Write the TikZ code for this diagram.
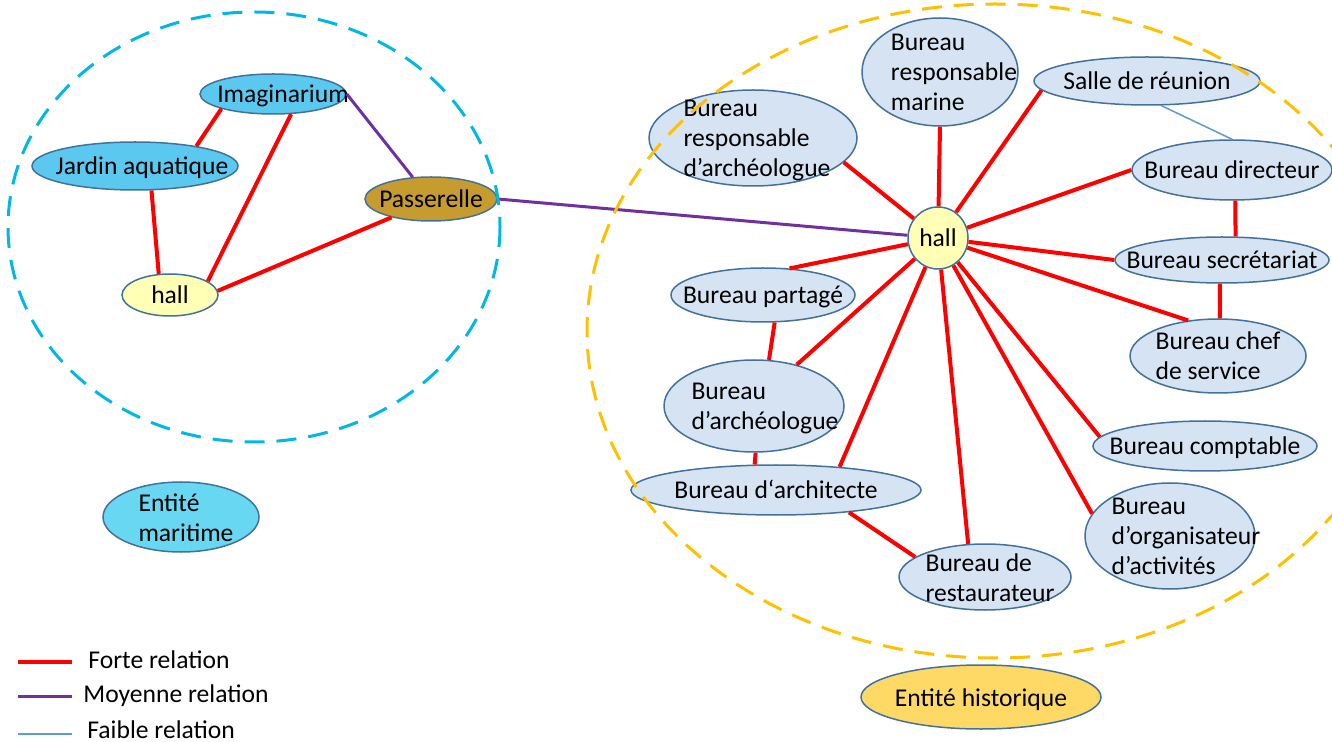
\documentclass[tikz,border=0pt]{standalone}
\usepackage{fontspec}
\setmainfont{Carlito}
\usetikzlibrary{shapes.geometric}
\definecolor{roomBlue}{RGB}{214,227,242}
\definecolor{roomBorder}{RGB}{65,113,156}
\definecolor{aquaBlue}{RGB}{91,200,240}
\definecolor{seaBlue}{RGB}{104,216,242}
\definecolor{bridgeGold}{RGB}{198,156,46}
\definecolor{hallYellow}{RGB}{255,255,182}
\definecolor{histGold}{RGB}{255,217,102}
\definecolor{zoneCyan}{RGB}{0,184,230}
\definecolor{zoneOrange}{RGB}{255,192,0}
\definecolor{relPurple}{RGB}{112,48,160}
\definecolor{relBlue}{RGB}{91,155,213}
% text kept out of the shape size, optional shift to the right
\newcommand{\ovl}[2][0pt]{\makebox[0pt]{\hspace*{#1}\smash{\raisebox{-4.5pt}{\begin{tabular}{@{}l@{}}#2\end{tabular}}}\hspace*{-#1}}}
\tikzset{
  room/.style={ellipse, draw=roomBorder, line width=0.75pt, fill=roomBlue, inner sep=0pt},
  forte/.style={red, line width=2pt},
  moyenne/.style={relPurple, line width=1.5pt},
  faible/.style={relBlue, line width=0.75pt},
  zone/.style={line width=1.5pt, dash pattern=on 10pt off 6pt},
  keytext/.style={anchor=base west, inner sep=0pt}
}
\begin{document}
\begin{tikzpicture}[x=0.5pt, y=-0.5pt, font=\fontsize{12.8}{15}\selectfont]
      \useasboundingbox (0,0) rectangle (1332,742);

      % entite maritime
      \node[room, fill=aquaBlue, minimum width=73pt, minimum height=20pt] (imag) at (273,94) {\ovl[5pt]{Imaginarium}};
      \node[room, fill=aquaBlue, minimum width=103pt, minimum height=24pt] (jardin) at (135,166) {\ovl[3.5pt]{Jardin aquatique}};
      \node[room, fill=bridgeGold, minimum width=66pt, minimum height=22pt] (pass) at (431,199) {\ovl{Passerelle}};
      \node[room, fill=hallYellow, minimum width=48pt, minimum height=21pt] (hallL) at (170,295) {\ovl{hall}};
      \node[room, fill=seaBlue, minimum width=78pt, minimum height=35pt] (maritime) at (181,517) {\ovl[2.5pt]{Entité\\maritime}};

      % entite historique
      \node[room, fill=hallYellow, minimum width=30pt, minimum height=31pt] (hallR) at (938,238) {\ovl{hall}};
      \node[room, minimum width=78pt, minimum height=54pt] (marine) at (940,72) {\ovl[7pt]{Bureau\\responsable\\marine}};
      \node[room, minimum width=113pt, minimum height=24pt] (salle) at (1147,81) {\ovl{Salle de réunion}};
      \node[room, minimum width=104pt, minimum height=48pt] (respArch) at (753,138) {\ovl[2pt]{Bureau\\responsable\\d’archéologue}};
      \node[room, minimum width=100pt, minimum height=30pt] (directeur) at (1232,170) {\ovl{Bureau directeur}};
      \node[room, minimum width=107pt, minimum height=23pt] (secret) at (1222,260) {\ovl{Bureau secrétariat}};
      \node[room, minimum width=92pt, minimum height=27pt] (partage) at (763,295) {\ovl{Bureau partagé}};
      \node[room, minimum width=88pt, minimum height=37pt] (chef) at (1218,356) {\ovl{Bureau chef\\de service}};
      \node[room, minimum width=90pt, minimum height=46pt] (archeo) at (754,406) {\ovl[5.5pt]{Bureau\\d’archéologue}};
      \node[room, minimum width=112pt, minimum height=25pt] (comptable) at (1205,446) {\ovl{Bureau comptable}};
      \node[room, minimum width=145pt, minimum height=25pt] (archi) at (776,490) {\ovl{Bureau d‘architecte}};
      \node[room, minimum width=85pt, minimum height=53pt] (organis) at (1170,536) {\ovl[8pt]{Bureau\\d’organisateur\\d’activités}};
      \node[room, minimum width=86pt, minimum height=33pt] (resto) at (985,577) {\ovl[2.5pt]{Bureau de\\restaurateur}};
      \node[room, fill=histGold, minimum width=120pt, minimum height=32pt] (historique) at (981,697) {\ovl{Entité historique}};

      % relations cote maritime
      \draw[forte] (imag.196) -- (jardin.18);
      \draw[forte] (imag.-48) -- (hallL.20);
      \draw[forte] (jardin.-56) -- (hallL.118);
      \draw[forte] (pass.205) -- (hallL.5);
      \draw[moyenne] (imag.east) -- (pass.130);
      \draw[moyenne] (pass.east) -- (hallR);

      % relations autour du hall
      \foreach \room/\ang in {respArch/-15, marine/-90, salle/185, directeur/180, secret/180,
          chef/130, comptable/175, organis/164, resto/117, archi/20, archeo/44, partage/45}
        \draw[forte] (hallR) -- (\room.\ang);
      \draw[forte] (directeur.-84) -- (secret.60);
      \draw[forte] (secret.-95) -- (chef.87);
      \draw[forte] (partage.-67) -- (archeo.72);
      \draw[forte] (archeo.-88) -- (archi.130);
      \draw[forte] (archi.-17) -- (resto.164);
      \draw[faible] (salle.-60) -- (directeur.north);

      % zones
      \draw[zone, zoneCyan] (254,227) ellipse [x radius=246, y radius=215];
      \draw[zone, zoneOrange] (995,331) ellipse [x radius=408, y radius=327];

      % legende
      \coordinate (keyF1) at (18,662);  \coordinate (keyF2) at (72,662);
      \coordinate (keyM1) at (18,696);  \coordinate (keyM2) at (72,696);
      \coordinate (keyB1) at (18,734);  \coordinate (keyB2) at (72,734);
      \draw[forte] (keyF1) -- (keyF2);
      \draw[moyenne] (keyM1) -- (keyM2);
      \draw[faible] (keyB1) -- (keyB2);
      \node[keytext] (txtF) at (88,668) {Forte relation};
      \node[keytext] (txtM) at (83,702) {Moyenne relation};
      \node[keytext] (txtB) at (87,738) {Faible relation};
\end{tikzpicture}
\end{document}
